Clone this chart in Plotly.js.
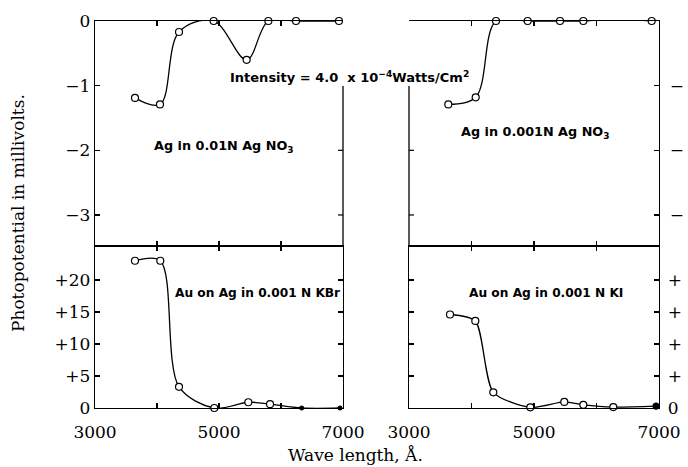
<!DOCTYPE html>
<html>
<head>
<meta charset="utf-8">
<script src="https://cdn.plot.ly/plotly-3.0.1.min.js"></script>
<style>html,body{margin:0;padding:0;background:#fff;}#chart{width:688px;height:467px;}</style>
</head>
<body>
<div id="chart"></div>
<script>
// ---- Data ----
const agNO3_01_wavelength = [3645, 4048, 4355, 4914, 5446, 5796, 6242, 6935];
const agNO3_01_mv         = [-1.19, -1.29, -0.17, 0.0, -0.60, 0.0, 0.0, 0.0];

const agNO3_001_wavelength = [3629, 4067, 4392, 4899, 5416, 5789, 6243, 6883];
const agNO3_001_mv         = [-1.29, -1.18, 0.0, 0.0, 0.0, 0.0, 0.03, 0.0];

const kbr_wavelength = [3645, 4053, 4355, 4924, 5473, 5823, 6333, 6952];
const kbr_mv         = [23.0, 23.0, 3.3, 0.0, 0.9, 0.6, 0.0, 0.0];

const ki_wavelength = [3656, 4061, 4349, 4941, 5485, 5789, 6269, 6952];
const ki_mv         = [14.6, 13.6, 2.45, 0.1, 0.95, 0.5, 0.15, 0.3];

const xTickVals = [3000, 4000, 5000, 6000, 7000];
const xTickText = ['3000', '', '5000', '', '7000'];
const topTickVals = [0, -1, -2, -3];
const topTickText = ['0', '\u22121', '\u22122', '\u22123'];
const botTickVals = [0, 5, 10, 15, 20];
const botTickText = ['0', '+5', '+10', '+15', '+20'];
const botRightTickText = ['0', '+', '+', '+', '+'];
const partialBorderTicks = [-2, -3];

// ---- Layout helpers ----
const W = 688, H = 467;
const px = v => v / W;
const py = v => 1 - v / H;

const lineStyle = {color: 'black', width: 1.3};
function openMarkers() { return {symbol: 'circle', size: 7, color: 'white', opacity: 1, line: {color: 'black', width: 1.2}}; }

const traces = [
  {x: agNO3_01_wavelength, y: agNO3_01_mv, xaxis: 'x', yaxis: 'y', type: 'scatter', mode: 'lines+markers',
   line: Object.assign({shape: 'spline', smoothing: 1.0}, lineStyle), marker: openMarkers(), cliponaxis: false},
  {x: agNO3_001_wavelength, y: agNO3_001_mv, xaxis: 'x2', yaxis: 'y2', type: 'scatter', mode: 'lines+markers',
   line: Object.assign({shape: 'spline', smoothing: 1.0}, lineStyle), marker: openMarkers(), cliponaxis: false},
  {x: kbr_wavelength, y: kbr_mv, xaxis: 'x3', yaxis: 'y3', type: 'scatter', mode: 'lines+markers',
   line: Object.assign({shape: 'spline', smoothing: 0.9}, lineStyle),
   marker: {symbol: 'circle', size: [7,7,7,7,7,7,4,4], opacity: 1,
            color: ['white','white','white','white','white','white','black','black'],
            line: {color: 'black', width: 1.2}}, cliponaxis: false},
  {x: ki_wavelength, y: ki_mv, xaxis: 'x4', yaxis: 'y4', type: 'scatter', mode: 'lines+markers',
   line: Object.assign({shape: 'spline', smoothing: 0.7}, lineStyle),
   marker: {symbol: 'circle', size: [7,7,7,7,7,7,7,6], opacity: 1,
            color: ['white','white','white','white','white','white','white','black'],
            line: {color: 'black', width: 1.2}}, cliponaxis: false}
];

const base = {
  showgrid: false, zeroline: false, showline: true, linecolor: 'black', linewidth: 1.3,
  ticks: 'inside', ticklen: 5, tickcolor: 'black', tickwidth: 1.2,
  tickfont: {family: 'DejaVu Serif', size: 17, color: 'black'}, fixedrange: true
};
const xL = [px(95), px(343)], xR = [px(409), px(659)];
const yT = [py(246), py(21)], yB = [py(408), py(246)];
const topRange = [-3.48, 0], botRange = [0, 25.3];
const partialTop = -1.005;

const agFont = {family: 'DejaVu Sans', size: 12.8, color: 'black', weight: 'bold'};
const auFont = {family: 'DejaVu Sans', size: 12.2, color: 'black', weight: 'bold'};
const intFont = {family: 'DejaVu Sans', size: 13, color: 'black', weight: 'bold'};
const titleFont = {family: 'DejaVu Serif', size: 17, color: 'black'};

const border = {color: 'black', width: 1.3};
const tickLine = {color: 'black', width: 1.2};
const shapes = [
  // zero lines extending past the panels
  {type: 'line', xref: 'x',  yref: 'y',  x0: 7000, x1: 7430, y0: 0, y1: 0, line: border},
  {type: 'line', xref: 'x3', yref: 'y3', x0: 7000, x1: 7430, y0: 0, y1: 0, line: border},
  {type: 'line', xref: 'x2', yref: 'y2', x0: 2570, x1: 3000, y0: 0, y1: 0, line: border},
  {type: 'line', xref: 'x4', yref: 'y4', x0: 2590, x1: 3000, y0: 0, y1: 0, line: border},
  // partial inner borders of the upper panels
  {type: 'line', xref: 'x domain',  yref: 'y',  x0: 1, x1: 1, y0: partialTop, y1: topRange[0], line: border},
  {type: 'line', xref: 'x2 domain', yref: 'y2', x0: 0, x1: 0, y0: partialTop, y1: topRange[0], line: border}
];
partialBorderTicks.forEach(v => {
  shapes.push({type: 'line', xref: 'x domain', yref: 'y', xsizemode: 'pixel', xanchor: 1, x0: -5, x1: 0, y0: v, y1: v, line: tickLine});
  shapes.push({type: 'line', xref: 'x2 domain', yref: 'y2', xsizemode: 'pixel', xanchor: 0, x0: 0, x1: 5, y0: v, y1: v, line: tickLine});
});

const layout = {
  width: W, height: H,
  margin: {l: 0, r: 0, t: 0, b: 0},
  paper_bgcolor: 'white', plot_bgcolor: 'rgba(0,0,0,0)',
  showlegend: false,
  xaxis:  Object.assign({}, base, {domain: xL, range: [3000, 7000], anchor: 'y', mirror: 'ticks', tickvals: [4000, 5000, 6000], showticklabels: false}),
  xaxis2: Object.assign({}, base, {domain: xR, range: [3000, 7000], anchor: 'y2', mirror: 'ticks', tickvals: [4000, 5000, 6000], showticklabels: false}),
  xaxis3: Object.assign({}, base, {domain: xL, range: [3000, 7000], anchor: 'y3', mirror: 'ticks', tickvals: xTickVals, ticktext: xTickText, ticklabelstandoff: 8}),
  xaxis4: Object.assign({}, base, {domain: xR, range: [3000, 7000], anchor: 'y4', mirror: 'ticks', tickvals: xTickVals, ticktext: xTickText, ticklabelstandoff: 8}),
  yaxis:  Object.assign({}, base, {domain: yT, range: topRange, anchor: 'x', tickvals: topTickVals, ticktext: topTickText}),
  yaxis2: Object.assign({}, base, {domain: yT, range: topRange, anchor: 'x2', side: 'right', tickvals: [-1, -2, -3], ticktext: ['\u2212', '\u2212', '\u2212'], ticklabelstandoff: 6}),
  yaxis3: Object.assign({}, base, {domain: yB, range: botRange, anchor: 'x3', mirror: 'ticks', tickvals: botTickVals, ticktext: botTickText}),
  yaxis4: Object.assign({}, base, {domain: yB, range: botRange, anchor: 'x4', side: 'right', mirror: 'ticks', tickvals: botTickVals, ticktext: botRightTickText, ticklabelstandoff: 4}),
  shapes: shapes,
  annotations: [
    {xref: 'paper', yref: 'paper', x: px(349), y: py(77), xanchor: 'center', yanchor: 'middle', showarrow: false,
     text: 'Intensity = 4.0  x 10<sup>\u22124</sup>Watts/Cm<sup>2</sup>', font: intFont},
    {xref: 'paper', yref: 'paper', x: px(224), y: py(147), xanchor: 'center', yanchor: 'middle', showarrow: false,
     text: 'Ag in 0.01N Ag NO<sub>3</sub>', font: agFont},
    {xref: 'paper', yref: 'paper', x: px(535), y: py(133), xanchor: 'center', yanchor: 'middle', showarrow: false,
     text: 'Ag in 0.001N Ag NO<sub>3</sub>', font: agFont},
    {xref: 'paper', yref: 'paper', x: px(257), y: py(293), xanchor: 'center', yanchor: 'middle', showarrow: false,
     text: 'Au on Ag in 0.001 N KBr', font: auFont},
    {xref: 'paper', yref: 'paper', x: px(546), y: py(293), xanchor: 'center', yanchor: 'middle', showarrow: false,
     text: 'Au on Ag in 0.001 N KI', font: auFont},
    {xref: 'paper', yref: 'paper', x: px(18), y: py(213), xanchor: 'center', yanchor: 'middle', showarrow: false,
     textangle: -90, text: 'Photopotential in millivolts.', font: titleFont},
    {xref: 'paper', yref: 'paper', x: px(355), y: py(455), xanchor: 'center', yanchor: 'middle', showarrow: false,
     text: 'Wave length, \u00c5.', font: titleFont}
  ]
};

Plotly.newPlot('chart', traces, layout, {displayModeBar: false, staticPlot: true});
</script>
</body>
</html>
